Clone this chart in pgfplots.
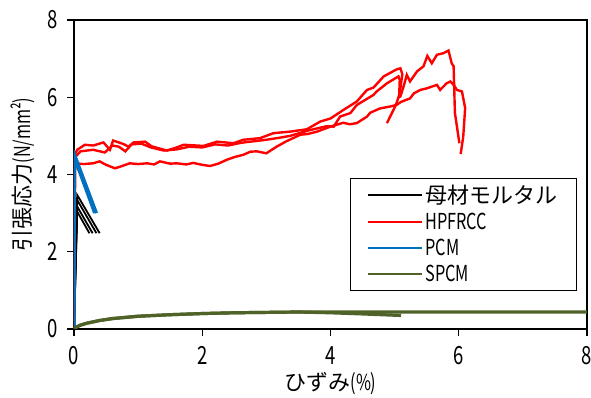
\documentclass[border=0pt]{standalone}
\usepackage{fontspec}
\setmainfont{Noto Sans CJK JP}[FakeStretch=0.74]
\newfontfamily\cjk{Noto Sans CJK JP}
\usepackage{pgfplots}
\pgfplotsset{compat=1.18}
\definecolor{pcmblue}{HTML}{0070C0}
\definecolor{spcmgreen}{HTML}{4F6228}
\begin{document}
\begin{tikzpicture}
\path[use as bounding box] (-74pt,-69pt) rectangle (517pt,329pt);
\begin{axis}[
  scale only axis, width=513pt, height=309pt,
  xmin=0, xmax=8, ymin=0, ymax=8,
  xtick={0,2,...,8}, ytick={0,2,...,8},
  tick align=outside, tick pos=left, major tick length=7pt,
  axis line style={line width=1.6pt}, every tick/.style={black,line width=1.2pt},
  /pgf/number format/assume math mode=true,
  tick label style={font=\fontsize{25}{28}\selectfont},
  yticklabel style={xshift=-6pt},
  xticklabel style={yshift=-7pt},
  xlabel={{\cjk ひずみ}(\%)},
  ylabel={{\cjk 引張応力}(N/mm²)},
  label style={font=\fontsize{22}{26}\selectfont},
  xlabel style={yshift=0pt},
  ylabel style={yshift=6pt},
  legend style={at={(0.538,0.489)}, anchor=north west, draw=black, line width=1pt,
    font=\fontsize{22}{26}\selectfont, inner xsep=17pt, inner ysep=5pt,
    row sep=4pt, legend cell align=left},
  legend image code/.code={\draw[#1,line width=2pt] (0pt,0pt) -- (54pt,0pt);},
]
% 母材モルタル
\addplot[black, line width=1.8pt] coordinates {(0,0) (0.05,3.47) (0.40,2.48)};
\addlegendentry{{\cjk 母材モルタル}}
\addplot[black, line width=1.8pt, forget plot] coordinates {(0,0) (0.05,3.34) (0.35,2.48)};
\addplot[black, line width=1.8pt, forget plot] coordinates {(0,0) (0.05,3.17) (0.29,2.48)};
\addplot[black, line width=1.8pt, forget plot] coordinates {(0,0) (0.05,3.04) (0.24,2.48)};
% HPFRCC
\addplot[red, line width=2.4pt] coordinates {
(0,0) (0.0,4.3) (0.02,4.29) (0.15,4.27) (0.3,4.29) (0.4,4.34) (0.5,4.25) (0.64,4.16) (0.75,4.22) (0.87,4.29) (1.0,4.27) (1.14,4.29) (1.25,4.26) (1.34,4.34) (1.5,4.28) (1.6,4.29) (1.75,4.26) (1.86,4.3) (2.0,4.25) (2.12,4.22) (2.25,4.28) (2.38,4.38) (2.5,4.45) (2.64,4.51) (2.75,4.59) (2.85,4.6) (3.0,4.55) (3.16,4.72) (3.3,4.85) (3.53,5.03) (3.65,5.05) (3.79,5.11) (4.0,5.24) (4.2,5.34) (4.3,5.3) (4.41,5.33) (4.57,5.5) (4.62,5.6) (4.77,5.71) (4.93,5.76) (5.03,5.8) (5.1,5.88) (5.24,5.97) (5.3,6.1) (5.4,6.19) (5.5,6.23) (5.66,6.32) (5.71,6.19) (5.81,6.36) (5.87,6.41) (5.93,6.3) (5.97,6.19) (6.05,6.15) (6.1,5.72) (6.07,4.98) (6.03,4.53)};
\addlegendentry{HPFRCC}
\addplot[red, line width=2.4pt, forget plot] coordinates {
(0,0) (0.01,4.5) (0.05,4.64) (0.17,4.77) (0.3,4.75) (0.46,4.83) (0.56,4.64) (0.61,4.88) (0.77,4.79) (0.85,4.72) (0.93,4.83) (1.11,4.85) (1.21,4.73) (1.45,4.62) (1.6,4.7) (1.71,4.77) (2.02,4.74) (2.23,4.85) (2.49,4.81) (2.64,4.9) (2.9,4.94) (3.11,5.07) (3.37,5.11) (3.63,5.17) (3.84,5.37) (4.0,5.45) (4.2,5.67) (4.41,5.89) (4.57,6.19) (4.67,6.25) (4.83,6.54) (5.03,6.72) (5.09,6.75) (5.12,6.6) (5.08,6.1) (5.02,5.8) (4.88,5.33)};
\addplot[red, line width=2.4pt, forget plot] coordinates {
(0,0) (0.02,4.45) (0.1,4.6) (0.3,4.64) (0.48,4.57) (0.6,4.75) (0.7,4.72) (0.8,4.6) (0.9,4.78) (1.05,4.8) (1.2,4.7) (1.4,4.62) (1.6,4.65) (1.8,4.72) (2.0,4.7) (2.2,4.78) (2.4,4.75) (2.6,4.82) (2.75,4.85) (3.0,4.9) (3.2,4.95) (3.37,5.0) (3.68,5.15) (3.94,5.25) (4.05,5.24) (4.15,5.5) (4.31,5.59) (4.41,5.8) (4.67,6.06) (4.72,6.15) (4.88,6.36) (5.06,6.54) (5.08,6.45) (5.07,6.0) (5.09,6.02) (5.14,6.28) (5.19,6.58) (5.24,6.41) (5.35,6.67) (5.45,6.8) (5.51,7.07) (5.58,6.88) (5.66,7.1) (5.76,7.14) (5.84,7.21) (5.89,6.88) (5.92,6.8) (5.94,5.6) (6.01,4.81)};
% PCM
\addplot[pcmblue, line width=3.2pt] coordinates {(0,0) (0.0,4.55) (0.35,3.0)};
\addlegendentry{PCM}
\addplot[pcmblue, line width=2.8pt, forget plot] coordinates {(0,0) (0.01,4.4) (0.32,3.0)};
% SPCM
\addplot[spcmgreen, line width=3.2pt] coordinates {
(0,0) (0.05,0.06) (0.1,0.1) (0.2,0.15) (0.4,0.22) (0.6,0.27) (0.8,0.3) (1,0.33) (1.5,0.37) (2,0.4) (2.5,0.42) (3,0.43) (3.5,0.44) (4,0.44) (5,0.44) (6,0.44) (7,0.44) (8,0.44)};
\addlegendentry{SPCM}
\addplot[spcmgreen, line width=3.2pt, forget plot] coordinates {
(0,0) (0.05,0.06) (0.1,0.1) (0.2,0.15) (0.4,0.22) (0.6,0.27) (0.8,0.3) (1,0.33) (1.5,0.37) (2,0.4) (2.5,0.42) (3,0.43) (3.5,0.44) (4,0.42) (4.5,0.39) (5.1,0.35)};
\end{axis}
\end{tikzpicture}
\end{document}
